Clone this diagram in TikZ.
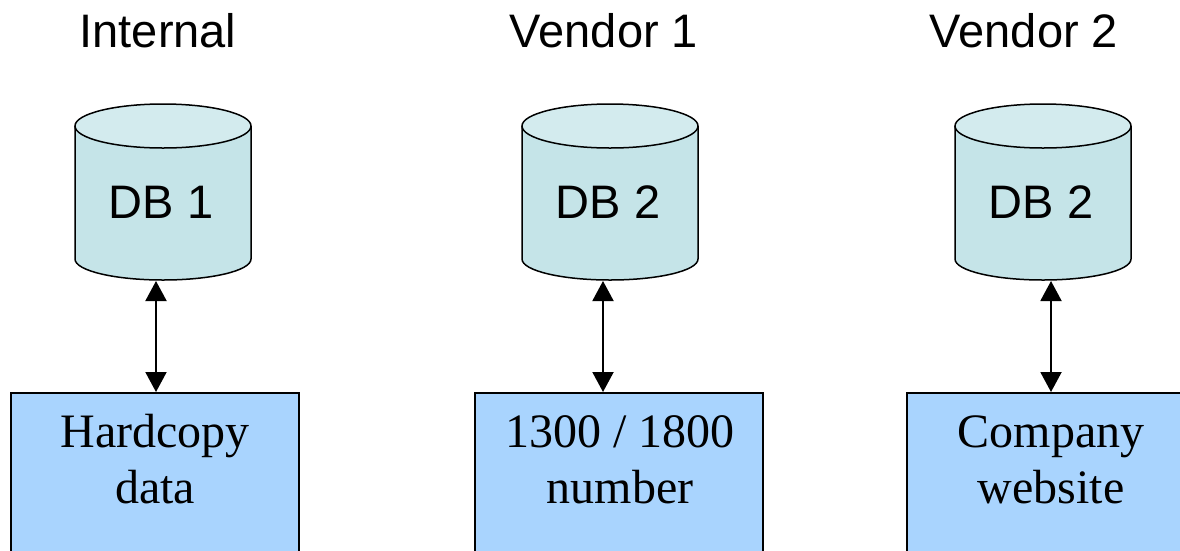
\documentclass[tikz,border=0pt]{standalone}
\usepackage{fontspec}
\setmainfont{Liberation Serif}
\newfontfamily\arialish{Liberation Sans}
\usetikzlibrary{arrows.meta}

\definecolor{dbbody}{HTML}{C5E4E8}
\definecolor{dbtop}{HTML}{D3EBEE}
\definecolor{srcfill}{HTML}{A9D4FE}

\tikzset{
  title/.style={font=\arialish\fontsize{47}{56}\selectfont, inner sep=0pt, anchor=base},
  dblabel/.style={font=\arialish\fontsize{47}{56}\selectfont, inner sep=0pt, anchor=base},
  dbline/.style={draw=black, line width=1.5pt},
  srcbox/.style={draw=black, line width=1.5pt, fill=srcfill, rectangle,
    minimum width=288pt, minimum height=250pt, inner sep=0pt, anchor=north},
  srctext/.style={font=\fontsize{48}{56}\selectfont, inner sep=0pt, align=center},
  tip/.tip={Triangle[length=20pt, width=21pt]},
  link/.style={line width=2pt, tip-tip},
}

% database cylinder: #1 name, #2 centre x, #3 label
\newcommand\dbcylinder[3]{%
  \path[dbline, fill=dbbody] (#2-88,126) -- (#2-88,259)
    arc[start angle=180, end angle=0, x radius=88, y radius=21]
    -- (#2+88,126);
  \path[dbline, fill=dbtop] (#2,126) ellipse[x radius=88, y radius=22];
  \node[dblabel] (#1) at (#2-2,218) {#3};
}

\begin{document}
\begin{tikzpicture}[x=1pt, y=-1pt]
  \useasboundingbox (0,0) rectangle (1180,550);
  \clip (0,0) rectangle (1180,550);

  % column headings
  \node[title] (hInternal) at (158,47) {Internal};
  \node[title] (hVendorA) at (604,47) {Vendor 1};
  \node[title] (hVendorB) at (1024,47) {Vendor 2};

  % databases
  \dbcylinder{db1}{163}{DB 1}
  \dbcylinder{db2}{610}{DB 2}
  \dbcylinder{db3}{1043}{DB 2}

  % link end points under each database
  \coordinate (db1-s) at (156,281);
  \coordinate (db2-s) at (603,281);
  \coordinate (db3-s) at (1051,281);

  % data sources
  \node[srcbox] (src1) at (155,392) {};
  \node[srcbox] (src2) at (619,392) {};
  \node[srcbox] (src3) at (1051,392) {};

  \node[srctext] (src1-t) at (155,463.8) {\strut Hardcopy\\\strut data};
  \node[srctext] (src2-t) at (620,463.8) {\strut 1300 / 1800\\\strut number};
  \node[srctext] (src3-t) at (1051,463.8) {\strut Company\\\strut website};

  % links
  \draw[link] (db1-s) -- (db1-s |- src1.north);
  \draw[link] (db2-s) -- (db2-s |- src2.north);
  \draw[link] (db3-s) -- (db3-s |- src3.north);
\end{tikzpicture}
\end{document}
